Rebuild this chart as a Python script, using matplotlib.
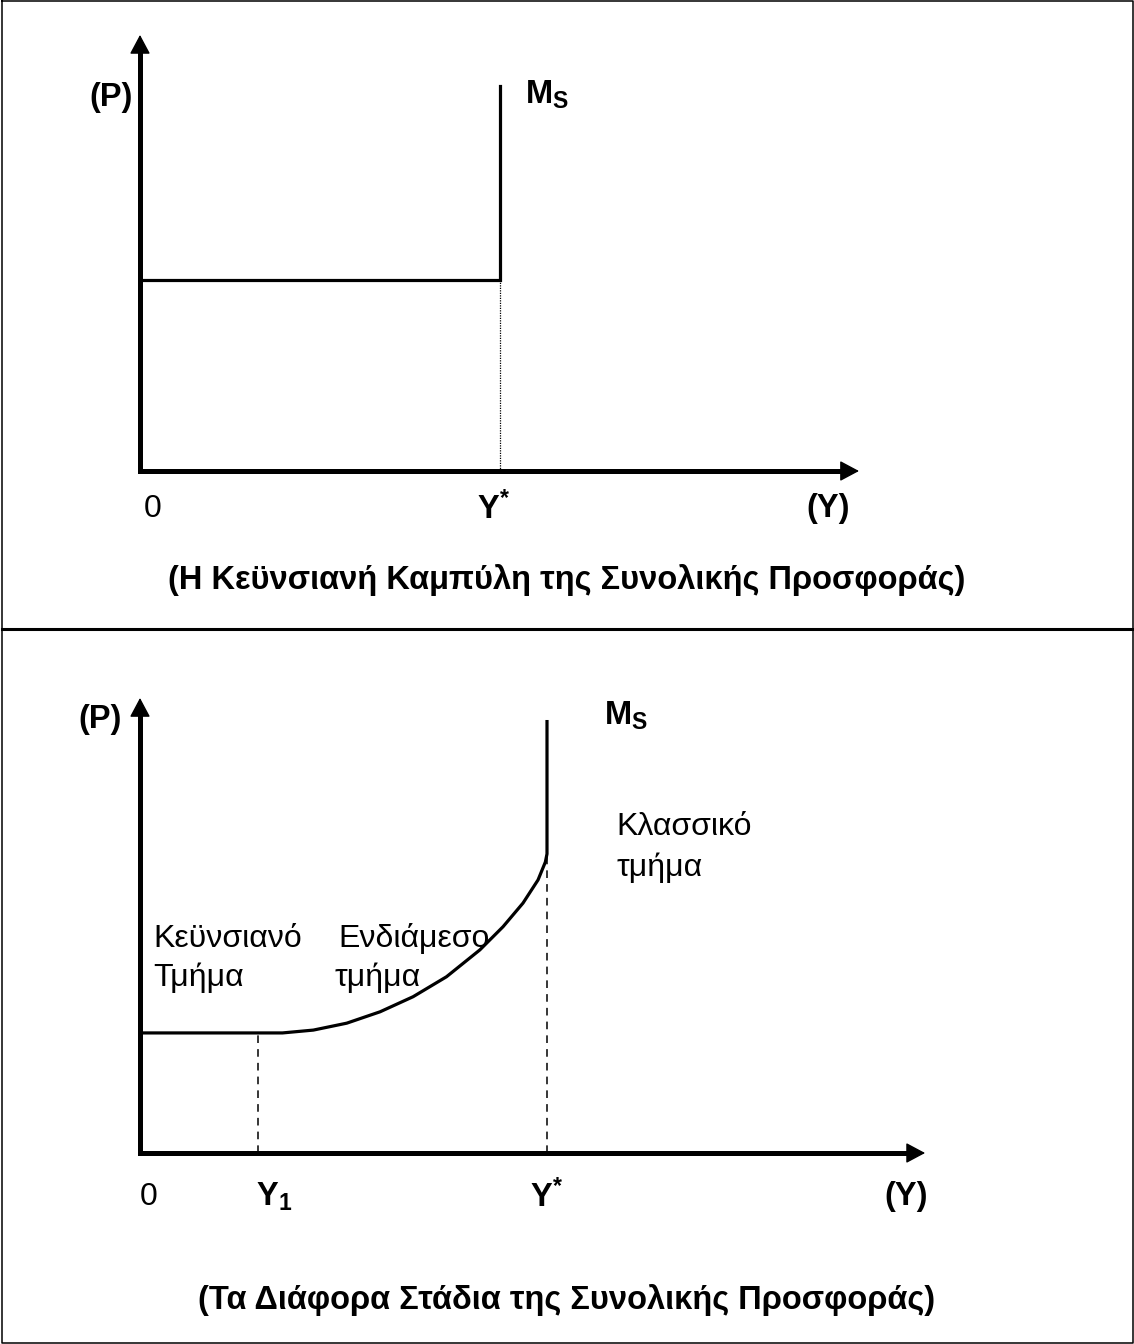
import numpy as np
import matplotlib
matplotlib.use('Agg')
import matplotlib.pyplot as plt
from matplotlib.lines import Line2D

plt.rcParams['font.family'] = ['Liberation Sans', 'DejaVu Sans']
plt.rcParams['mathtext.fontset'] = 'custom'
plt.rcParams['mathtext.rm'] = 'Liberation Sans'
plt.rcParams['mathtext.bf'] = 'Liberation Sans:bold'

# ---- data (Y* = 10 units in both panels) ----
# top panel: Keynesian aggregate supply
top_y_star = 10.0
top_p_level = 5.3
top_ms_top = 10.7
top_x_tip, top_y_tip = 20.0, 12.13

# bottom panel: stages of aggregate supply
bot_y1 = 2.9
bot_y_star = 10.0
bot_p_level = 2.95
bot_ms_top = 10.6
bot_x_tip, bot_y_tip = 19.29, 11.18
curve_x = [3.5, 4.26, 5.08, 5.90, 6.71, 7.53, 8.35, 8.92, 9.41, 9.78, 9.96, 10.0]
curve_y = [2.95, 3.02, 3.19, 3.47, 3.84, 4.33, 4.99, 5.56, 6.14, 6.71, 7.15, 7.35]

title_top = '(Η Κεϋνσιανή Καμπύλη της Συνολικής Προσφοράς)'
title_bot = '(Τα Διάφορα Στάδια της Συνολικής Προσφοράς)'

W, H = 1134, 1344
fig = plt.figure(figsize=(W / 100, H / 100), dpi=100)

AX_LW = 3.6
CURVE_LW = 2.3
BOLD_FS = 23.5
REG_FS = 23


def draw_axes(ax, x_tip, y_tip, px_unit):
    hl = 17 / px_unit  # arrow head length in data units
    ax.plot([0, 0, x_tip - hl], [y_tip - hl, 0, 0], color='black', lw=AX_LW,
            solid_joinstyle='miter', solid_capstyle='butt', clip_on=False)
    style = '-|>,head_length=0.6,head_width=0.32'
    ax.annotate('', xy=(x_tip, 0), xytext=(x_tip - hl, 0),
                arrowprops=dict(arrowstyle=style, mutation_scale=20, lw=1,
                                color='black', shrinkA=0, shrinkB=0))
    ax.annotate('', xy=(0, y_tip), xytext=(0, y_tip - hl),
                arrowprops=dict(arrowstyle=style, mutation_scale=20, lw=1,
                                color='black', shrinkA=0, shrinkB=0))
    ax.set_xlim(0, x_tip)
    ax.set_ylim(0, y_tip)
    ax.axis('off')


# ---------------- top panel ----------------
px_top = 35.95
ax1 = fig.add_axes([140 / W, 1 - 471 / H, top_x_tip * px_top / W, top_y_tip * px_top / H])
draw_axes(ax1, top_x_tip, top_y_tip, px_top)
ax1.plot([0, top_y_star, top_y_star], [top_p_level, top_p_level, top_ms_top],
         color='black', lw=CURVE_LW, solid_joinstyle='miter', clip_on=False)
ax1.plot([top_y_star, top_y_star], [0, top_p_level], color='black', lw=0.9,
         dashes=(1, 1))

ax1.text(-0.8, 10.38, '(P)', fontsize=BOLD_FS, fontweight='bold', ha='center', va='center')
ax1.text(10.7, 10.46, r'$\mathbf{M_S}$', fontsize=BOLD_FS, ha='left', va='center')
ax1.text(0.34, -1.05, '0', fontsize=REG_FS, ha='center', va='center')
ax1.text(9.85, -1.05, r'$\mathbf{Y^{\!*}}$', fontsize=BOLD_FS, ha='center', va='center')
ax1.text(19.14, -1.05, '(Y)', fontsize=BOLD_FS, fontweight='bold', ha='center', va='center')
fig.text(0.5, 1 - 580 / H, title_top, fontsize=BOLD_FS, fontweight='bold',
         ha='center', va='center')

# ---------------- bottom panel ----------------
px_bot = 40.7
ax2 = fig.add_axes([140 / W, 1 - 1153 / H, bot_x_tip * px_bot / W, bot_y_tip * px_bot / H])
draw_axes(ax2, bot_x_tip, bot_y_tip, px_bot)
ax2.plot([0] + curve_x + [bot_y_star], [bot_p_level] + curve_y + [bot_ms_top],
         color='black', lw=CURVE_LW, solid_joinstyle='round', clip_on=False)
ax2.plot([bot_y1, bot_y1], [0, bot_p_level], color='black', lw=1.1, dashes=(5, 4))
ax2.plot([bot_y_star, bot_y_star], [0, curve_y[-1]], color='black', lw=1.1, dashes=(5, 4))

ax2.text(-0.98, 10.66, '(P)', fontsize=BOLD_FS, fontweight='bold', ha='center', va='center')
ax2.text(11.4, 10.74, r'$\mathbf{M_S}$', fontsize=BOLD_FS, ha='left', va='center')
ax2.text(11.70, 8.0, 'Κλασσικό', fontsize=REG_FS, ha='left', va='center')
ax2.text(11.70, 7.0, 'τμήμα', fontsize=REG_FS, ha='left', va='center')
ax2.text(0.32, 5.26, 'Κεϋνσιανό', fontsize=REG_FS, ha='left', va='center')
ax2.text(0.32, 4.30, 'Τμήμα', fontsize=REG_FS, ha='left', va='center')
ax2.text(4.87, 5.26, 'Ενδιάμεσο', fontsize=REG_FS, ha='left', va='center')
ax2.text(4.77, 4.30, 'τμήμα', fontsize=REG_FS, ha='left', va='center')
ax2.text(0.2, -1.08, '0', fontsize=REG_FS, ha='center', va='center')
ax2.text(3.3, -1.08, r'$\mathbf{Y_1}$', fontsize=BOLD_FS, ha='center', va='center')
ax2.text(10.0, -1.08, r'$\mathbf{Y^{\!*}}$', fontsize=BOLD_FS, ha='center', va='center')
ax2.text(18.82, -1.08, '(Y)', fontsize=BOLD_FS, fontweight='bold', ha='center', va='center')
fig.text(0.5, 1 - 1300 / H, title_bot, fontsize=BOLD_FS, fontweight='bold',
         ha='center', va='center')

# ---------------- frame ----------------
fx0, fx1 = 2 / W, 1 - 1 / W
fy0, fy1 = 1 / H, 1 - 1 / H
fig.add_artist(Line2D([fx0, fx1, fx1, fx0, fx0], [fy1, fy1, fy0, fy0, fy1],
                      transform=fig.transFigure, color='black', lw=1.1))
fig.add_artist(Line2D([fx0, fx1], [1 - 629 / H, 1 - 629 / H],
                      transform=fig.transFigure, color='black', lw=2.2))

fig.savefig('out.png', dpi=100)
